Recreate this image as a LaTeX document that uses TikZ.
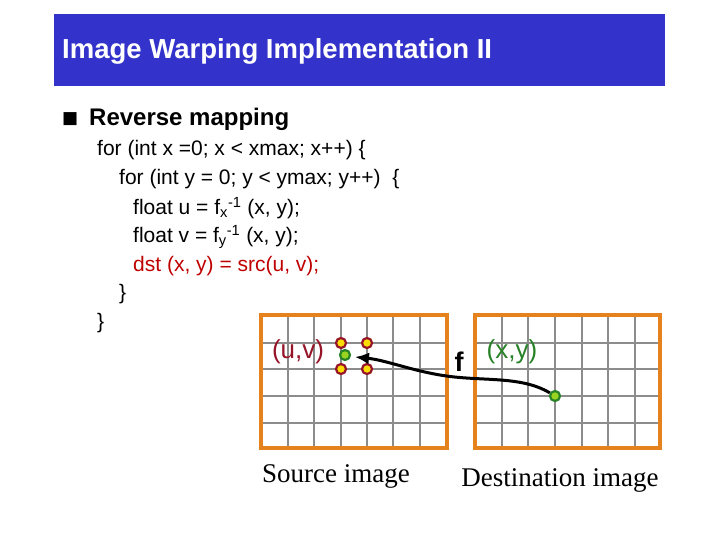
\documentclass[tikz,border=0pt]{standalone}
\usepackage{fontspec}
\setmainfont{Liberation Sans}
\newfontfamily\serifdl{Liberation Serif}
\newfontfamily\djv{DejaVu Sans}
\usetikzlibrary{arrows.meta}
\definecolor{bar}{RGB}{51,51,204}
\definecolor{orng}{RGB}{230,130,30}
\definecolor{dred}{RGB}{150,20,40}
\definecolor{dgreen}{RGB}{40,130,40}
\tikzset{code/.style={anchor=west,font=\fontsize{21}{21}\selectfont,inner sep=0pt},
 gridl/.style={draw=gray!90,line width=1.3pt},
 frame/.style={draw=orng,line width=3.5pt},
 rdot/.style={circle,fill=yellow!80!orange,draw=dred,line width=2.2pt,minimum size=10pt,inner sep=0pt},
 gdot/.style={circle,fill=yellow!60!green,draw=dgreen,line width=2.2pt,minimum size=10pt,inner sep=0pt}}
\begin{document}
\begin{tikzpicture}[x=1pt,y=-1pt]
\useasboundingbox (0,0) rectangle (720,540);
\fill[bar] (54,14) rectangle (665,86);
\node[anchor=west,inner sep=0pt,text=white,font=\fontsize{27.5}{27.5}\selectfont\bfseries] (title) at (62,51) {Image Warping Implementation II};
\node[anchor=west,inner sep=0pt,font=\fontsize{17}{17}\selectfont] (bul) at (62,119) {\djv■};
\node[anchor=west,inner sep=0pt,font=\fontsize{24}{24}\selectfont\bfseries] (head) at (89,119) {Reverse mapping};
\node[code] (l1) at (97,150) {for (int x =0; x < xmax; x++) \{};
\node[code] (l2) at (119,179) {for (int y = 0; y < ymax; y++)~~\{};
\node[code] (l3) at (133,208) {float u = f\textsubscript{x}\textsuperscript{-1} (x, y);};
\node[code] (l4) at (133,237) {float v = f\textsubscript{y}\textsuperscript{-1} (x, y);};
\node[code,text=red!75!black] (l5) at (133,266) {dst (x, y) = src(u, v);};
\node[code] (l6) at (119,294) {\}};
\node[code] (l7) at (97,323) {\}};
% source grid
\foreach \x in {288,314,341,367,393,420} \draw[gridl] (\x,315) -- (\x,448);
\foreach \y in {343,369,396,423} \draw[gridl] (261,\y) -- (447,\y);
\draw[frame] (261,315) rectangle (447,448);
% dest grid
\foreach \x in {502,528,555,582,608,635} \draw[gridl] (\x,315) -- (\x,448);
\foreach \y in {343,369,396,423} \draw[gridl] (475,\y) -- (660,\y);
\draw[frame] (475,315) rectangle (660,448);
\node[text=dred,font=\fontsize{26}{26}\selectfont] (uv) at (298,352) {(u,v)};
\node[text=dgreen,font=\fontsize{26}{26}\selectfont] (xy) at (512,352) {(x,y)};
\node[font=\fontsize{27}{27}\selectfont\bfseries] (f) at (459,362) {f};
\node[rdot] (r1) at (341,343) {};
\node[rdot] (r2) at (367,343) {};
\node[rdot] (r3) at (341,369) {};
\node[rdot] (r4) at (367,369) {};
\node[gdot] (g1) at (345,355) {};
\node[gdot] (g2) at (555,396) {};
\draw[line width=3pt,-{Latex[length=14pt,width=12pt]}] (g2) .. controls (520,375) and (480,382) .. (440,375) .. controls (410,370) and (385,360) .. (355,357);
\node[font=\serifdl\fontsize{27}{27}\selectfont] (src) at (336,476) {Source image};
\node[font=\serifdl\fontsize{27}{27}\selectfont] (dst) at (560,480) {Destination image};
\end{tikzpicture}
\end{document}
